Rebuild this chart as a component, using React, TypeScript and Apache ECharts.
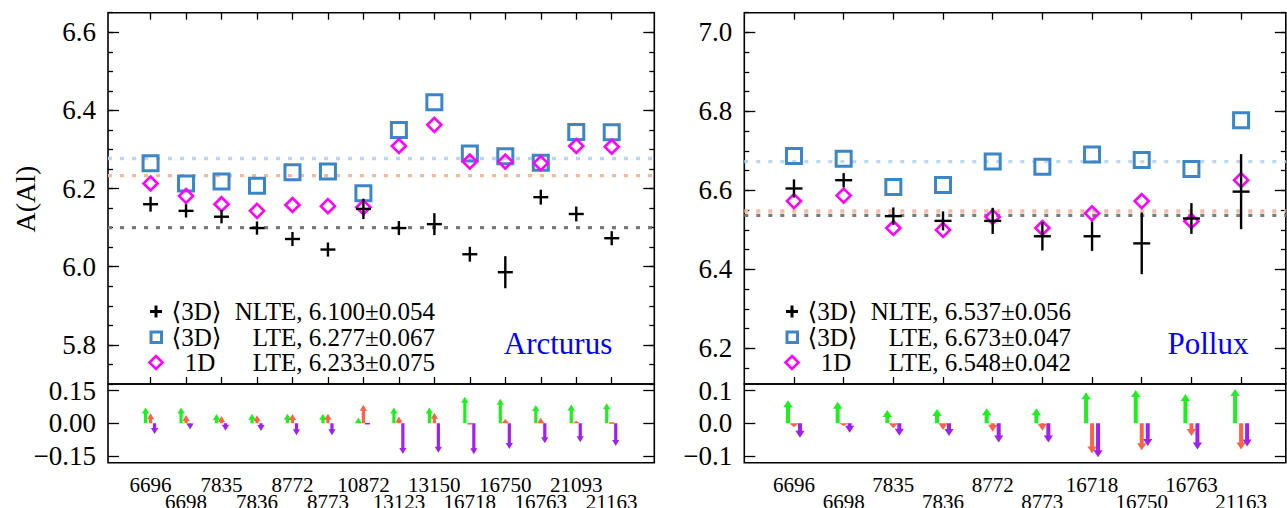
import React, { useEffect, useRef } from "react";
import * as echarts from "echarts";

// ---------------- data ----------------
const arcLines = ["6696", "6698", "7835", "7836", "8772", "8773", "10872", "13123", "13150", "16718", "16750", "16763", "21093", "21163"];
const arcNLTE = [6.160, 6.143, 6.128, 6.099, 6.071, 6.044, 6.148, 6.099, 6.109, 6.032, 5.986, 6.178, 6.135, 6.073];
const arcNLTEErr = [0.019, 0.017, 0.017, 0.017, 0.018, 0.018, 0.026, 0.018, 0.028, 0.019, 0.041, 0.019, 0.019, 0.018];
const arcLTE3D = [6.265, 6.213, 6.218, 6.207, 6.242, 6.244, 6.188, 6.350, 6.421, 6.290, 6.283, 6.266, 6.345, 6.344];
const arcLTE1D = [6.213, 6.181, 6.160, 6.143, 6.158, 6.155, 6.152, 6.309, 6.363, 6.269, 6.269, 6.265, 6.309, 6.307];
const arcMeans = [6.100, 6.277, 6.233];
const arcMeanTexts = ["NLTE, 6.100\u00b10.054", "LTE, 6.277\u00b10.067", "LTE, 6.233\u00b10.075"];
const arcDGreen = [0.073, 0.073, 0.043, 0.044, 0.044, 0.044, 0.026, 0.073, 0.073, 0.122, 0.113, 0.084, 0.087, 0.092];
const arcDOrange = [0.046, 0.038, 0.034, 0.037, 0.043, 0.044, 0.086, 0.031, 0.049, -0.008, 0.020, 0.026, 0.012, 0.003];
const arcDPurple = [-0.049, -0.028, -0.034, -0.035, -0.055, -0.055, -0.005, -0.141, -0.135, -0.142, -0.118, -0.092, -0.087, -0.104];
const arcYTicks = [5.8, 6.0, 6.2, 6.4, 6.6];
const arcBTicks = [-0.15, 0, 0.15];
const arcBLabels = ["\u22120.15", "0.00", "0.15"];

const polLines = ["6696", "6698", "7835", "7836", "8772", "8773", "16718", "16750", "16763", "21163"];
const polNLTE = [6.605, 6.626, 6.535, 6.523, 6.523, 6.484, 6.484, 6.466, 6.529, 6.597];
const polNLTEErr = [0.023, 0.018, 0.022, 0.024, 0.033, 0.036, 0.037, 0.078, 0.039, 0.095];
const polLTE3D = [6.687, 6.680, 6.609, 6.614, 6.673, 6.660, 6.691, 6.677, 6.654, 6.778];
const polLTE1D = [6.573, 6.587, 6.505, 6.500, 6.533, 6.505, 6.542, 6.573, 6.522, 6.626];
const polMeans = [6.537, 6.673, 6.548];
const polMeanTexts = ["NLTE, 6.537\u00b10.056", "LTE, 6.673\u00b10.047", "LTE, 6.548\u00b10.042"];
const polDGreen = [0.071, 0.066, 0.041, 0.044, 0.046, 0.046, 0.095, 0.102, 0.090, 0.105];
const polDOrange = [-0.012, -0.008, -0.015, -0.020, -0.026, -0.023, -0.092, -0.082, -0.039, -0.080];
const polDPurple = [-0.044, -0.029, -0.038, -0.039, -0.059, -0.059, -0.104, -0.069, -0.080, -0.071];
const polYTicks = [6.2, 6.4, 6.6, 6.8, 7.0];
const polBTicks = [-0.1, 0, 0.1];
const polBLabels = ["\u22120.1", "0.0", "0.1"];

const legendPrefixes = ["\u27e83D\u27e9", "\u27e83D\u27e9", "1D"];

// ---------------- style ----------------
const FONT = "'Liberation Serif', 'Times New Roman', 'DejaVu Serif', serif";
const TOP = 12.7;
const MID = 384;
const BOT = 462.7;
const C_SQ = "#3b86c6";
const C_DM = "#ff00ff";
const C_MEAN = ["#7a7a7a", "#bcd6ef", "#f7b99d"];
const C_ARROW = ["#1ef01e", "#ff6347", "#a020f0"];
const TICK = { color: "#000", width: 1.3 };
const NO_LINE = { show: false, onZero: false };

const panels = [
  {
    name: "Arcturus", nameX: 558, dx: 0,
    left: 108, width: 546.3, xMin: -1.2, xMax: 14.2,
    yMin: 5.70, yMax: 6.65, yTicks: arcYTicks,
    bMin: -0.181, bMax: 0.181, bTicks: arcBTicks, bLabels: arcBLabels,
    lines: arcLines, nlte: arcNLTE, err: arcNLTEErr, lte3d: arcLTE3D, lte1d: arcLTE1D,
    means: arcMeans, meanTexts: arcMeanTexts,
    dG: arcDGreen, dO: arcDOrange, dP: arcDPurple,
    arm: 7.5, offs: [-5, 0, 4], sw: 1.6, hw: 3.6, hh: 6,
  },
  {
    name: "Pollux", nameX: 1208, dx: 636,
    left: 744.3, width: 541.5, xMin: -1.0, xMax: 9.9,
    yMin: 6.11, yMax: 7.05, yTicks: polYTicks,
    bMin: -0.1205, bMax: 0.1205, bTicks: polBTicks, bLabels: polBLabels,
    lines: polLines, nlte: polNLTE, err: polNLTEErr, lte3d: polLTE3D, lte1d: polLTE1D,
    means: polMeans, meanTexts: polMeanTexts,
    dG: polDGreen, dO: polDOrange, dP: polDPurple,
    arm: 8.5, offs: [-6, 0, 6], sw: 2, hw: 4.6, hh: 7,
  },
];

function minorTicks(min: number, max: number) {
  const out: number[] = [];
  for (let k = Math.ceil(min / 0.05 - 1e-6); k * 0.05 <= max + 1e-9; k++) out.push(+(k * 0.05).toFixed(2));
  return out;
}

function buildOption() {
  const grid: any[] = [];
  const xAxis: any[] = [];
  const yAxis: any[] = [];
  const series: any[] = [];
  const graphic: any[] = [];

  panels.forEach((p) => {
    const gTop = grid.length;
    grid.push({ left: p.left, top: TOP, width: p.width, height: MID - TOP, show: true, borderColor: "#000", borderWidth: 1.6, backgroundColor: "transparent", containLabel: false, outerBoundsMode: "none" });
    const gBot = grid.length;
    grid.push({ left: p.left, top: MID, width: p.width, height: BOT - MID, show: true, borderColor: "#000", borderWidth: 1.6, backgroundColor: "transparent", containLabel: false, outerBoundsMode: "none" });

    const idx = p.lines.map((_, i) => i);
    const xBase = { type: "value", min: p.xMin, max: p.xMax, axisLine: NO_LINE, splitLine: { show: false } };
    const xT = xAxis.length;
    xAxis.push({ ...xBase, gridIndex: gTop, position: "bottom", axisLabel: { show: false }, axisTick: { show: true, inside: true, length: 7, customValues: idx, lineStyle: TICK } });
    xAxis.push({ ...xBase, gridIndex: gTop, position: "top", axisLabel: { show: false }, axisTick: { show: true, inside: true, length: 7, customValues: idx, lineStyle: TICK } });
    const lines = p.lines;
    const xB = xAxis.length;
    // two label rows: even-indexed lines on the first row, odd-indexed on the second
    [0, 1].forEach((row) => {
      xAxis.push({
        ...xBase, gridIndex: gBot, position: "bottom",
        axisTick: { show: false },
        axisLabel: {
          show: true, customValues: idx.filter((i) => i % 2 === row), showMinLabel: true, showMaxLabel: true, hideOverlap: false,
          formatter: (v: number) => lines[Math.round(v)] ?? "",
          fontFamily: FONT, fontSize: 21, color: "#000", lineHeight: 17, margin: 14 + row * 17, verticalAlign: "top",
        },
      });
    });

    const minors = minorTicks(p.yMin, p.yMax);
    const yBase = { type: "value", min: p.yMin, max: p.yMax, axisLine: NO_LINE, splitLine: { show: false } };
    const yT = yAxis.length;
    yAxis.push({
      ...yBase, gridIndex: gTop, position: "left",
      axisTick: { show: true, inside: true, length: 11, customValues: p.yTicks, lineStyle: TICK },
      axisLabel: { show: true, customValues: p.yTicks, formatter: (v: number) => v.toFixed(1), fontFamily: FONT, fontSize: 27, color: "#000", margin: 12 },
    });
    yAxis.push({ ...yBase, gridIndex: gTop, position: "right", axisLabel: { show: false }, axisTick: { show: true, inside: true, length: 11, customValues: p.yTicks, lineStyle: TICK } });
    yAxis.push({ ...yBase, gridIndex: gTop, position: "left", axisLabel: { show: false }, axisTick: { show: true, inside: true, length: 5, customValues: minors, lineStyle: TICK } });
    yAxis.push({ ...yBase, gridIndex: gTop, position: "right", axisLabel: { show: false }, axisTick: { show: true, inside: true, length: 5, customValues: minors, lineStyle: TICK } });

    const yB = yAxis.length;
    const bTicks = p.bTicks;
    const bLabels = p.bLabels;
    const bBase = { type: "value", min: p.bMin, max: p.bMax, axisLine: NO_LINE, splitLine: { show: false } };
    yAxis.push({
      ...bBase, gridIndex: gBot, position: "left",
      axisTick: { show: true, inside: true, length: 11, customValues: bTicks, lineStyle: TICK },
      axisLabel: {
        show: true, customValues: bTicks,
        formatter: (v: number) => { let best = 0; bTicks.forEach((t, k) => { if (Math.abs(t - v) < Math.abs(bTicks[best] - v)) best = k; }); return bLabels[best]; },
        fontFamily: FONT, fontSize: 27, color: "#000", margin: 12,
      },
    });
    yAxis.push({ ...bBase, gridIndex: gBot, position: "right", axisLabel: { show: false }, axisTick: { show: true, inside: true, length: 11, customValues: bTicks, lineStyle: TICK } });

    // mean dotted lines
    p.means.forEach((m, k) => {
      series.push({
        type: "line", xAxisIndex: xT, yAxisIndex: yT, silent: true, symbol: "none",
        data: [[p.xMin, m], [p.xMax, m]],
        lineStyle: { color: C_MEAN[k], width: 3.3, type: [4, 8] },
        z: 1,
      });
    });
    // 3D LTE squares
    series.push({
      type: "scatter", xAxisIndex: xT, yAxisIndex: yT, symbol: "rect", symbolSize: 15,
      data: p.lte3d.map((v, i) => [i, v]),
      itemStyle: { color: "rgba(0,0,0,0)", borderColor: C_SQ, borderWidth: 3, opacity: 1 },
      z: 3,
    });
    // 1D LTE diamonds
    series.push({
      type: "scatter", xAxisIndex: xT, yAxisIndex: yT, symbol: "diamond", symbolSize: 14,
      data: p.lte1d.map((v, i) => [i, v]),
      itemStyle: { color: "rgba(0,0,0,0)", borderColor: C_DM, borderWidth: 2.6, opacity: 1 },
      z: 4,
    });
    // 3D NLTE plus with error bars
    const arm = p.arm;
    series.push({
      type: "custom", xAxisIndex: xT, yAxisIndex: yT, z: 5,
      data: p.nlte.map((v, i) => [i, v, p.err[i]]),
      encode: { x: 0, y: 1 },
      renderItem: (params: any, api: any) => {
        const x = api.value(0), v = api.value(1), e = api.value(2);
        const c = api.coord([x, v]);
        const t = api.coord([x, v + e]);
        const b = api.coord([x, v - e]);
        const st = { stroke: "#000", lineWidth: 2.4 };
        return {
          type: "group",
          children: [
            { type: "line", shape: { x1: c[0] - arm, y1: c[1], x2: c[0] + arm, y2: c[1] }, style: st },
            { type: "line", shape: { x1: c[0], y1: t[1], x2: c[0], y2: b[1] }, style: st },
          ],
        };
      },
    });
    // arrows in bottom panel
    const offs = p.offs, sw = p.sw, hw = p.hw, hh = p.hh;
    series.push({
      type: "custom", xAxisIndex: xB, yAxisIndex: yB, z: 5,
      data: idx.map((i) => [i, p.dG[i], p.dO[i], p.dP[i]]),
      encode: { x: 0, y: 1 },
      renderItem: (params: any, api: any) => {
        const i = api.value(0);
        const base = api.coord([i, 0]);
        const children: any[] = [];
        [1, 2, 3].forEach((dim, k) => {
          const v = api.value(dim);
          const tip = api.coord([i, v]);
          const x = base[0] + offs[k];
          const y0 = base[1];
          const y1 = tip[1];
          const L = Math.abs(y1 - y0);
          if (L < 2) {
            children.push({ type: "rect", shape: { x: x - hw * 0.7, y: Math.min(y0, y1) - 0.5, width: hw * 1.4, height: Math.max(L, 1.6) }, style: { fill: C_ARROW[k] } });
            return;
          }
          const dir = y1 < y0 ? -1 : 1;
          const h = Math.min(hh, L);
          const yh = y1 - dir * h;
          children.push({
            type: "polygon",
            shape: { points: [[x - sw, y0], [x - sw, yh], [x - hw, yh], [x, y1], [x + hw, yh], [x + sw, yh], [x + sw, y0]] },
            style: { fill: C_ARROW[k] },
          });
        });
        return { type: "group", children };
      },
    });

    // legend (graphic) and star name
    const dx = p.dx;
    const rows = [311.5, 337, 362.5];
    graphic.push({ type: "line", shape: { x1: 150 + dx, y1: rows[0], x2: 162 + dx, y2: rows[0] }, style: { stroke: "#000", lineWidth: 3 } });
    graphic.push({ type: "line", shape: { x1: 156 + dx, y1: rows[0] - 6, x2: 156 + dx, y2: rows[0] + 6 }, style: { stroke: "#000", lineWidth: 3 } });
    graphic.push({ type: "rect", shape: { x: 151 + dx, y: rows[1] - 5, width: 10.5, height: 10.5 }, style: { fill: "none", stroke: C_SQ, lineWidth: 3 } });
    graphic.push({ type: "polygon", shape: { points: [[156 + dx, rows[2] - 6.5], [162.5 + dx, rows[2]], [156 + dx, rows[2] + 6.5], [149.5 + dx, rows[2]]] }, style: { fill: "none", stroke: C_DM, lineWidth: 2.6 } });
    rows.forEach((y, k) => {
      graphic.push({ type: "text", x: (k === 2 ? 200 : 196.5) + dx, y, style: { text: legendPrefixes[k], font: `25px ${FONT}`, lineHeight: 22, fill: "#000", align: "center", verticalAlign: "middle" } });
      graphic.push({ type: "text", x: 435 + dx, y, style: { text: p.meanTexts[k], font: `25px ${FONT}`, lineHeight: 22, fill: "#000", align: "right", verticalAlign: "middle" } });
    });
    graphic.push({ type: "text", x: p.nameX, y: 343, style: { text: p.name, font: `31px ${FONT}`, fill: "#0000ff", align: "center", verticalAlign: "middle" } });
  });

  graphic.push({ type: "text", x: 25, y: 199, rotation: Math.PI / 2, style: { text: "A(Al)", font: `28px ${FONT}`, fill: "#000", align: "center", verticalAlign: "middle" } });

  return { animation: false, backgroundColor: "#fff", grid, xAxis, yAxis, series, graphic };
}

export default function App() {
  const ref = useRef<HTMLDivElement>(null);
  useEffect(() => {
    document.body.style.margin = "0";
    const chart = echarts.init(ref.current!, null, { renderer: "svg" });
    chart.setOption(buildOption() as any);
    return () => chart.dispose();
  }, []);
  return <div ref={ref} style={{ width: 1287, height: 508 }} />;
}
